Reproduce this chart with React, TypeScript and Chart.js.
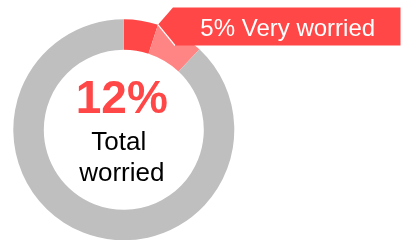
import React, { useEffect, useRef } from "react";
import { Chart, registerables } from "chart.js";

Chart.register(...registerables);

const categories = ["Very worried", "Somewhat worried", "Not worried"];
const values = [5, 7, 88];
const segmentColors = ["#FF4747", "#FF8585", "#BFBFBF"];
const totalLabel = "12%";
const totalCaption = ["Total", "worried"];
const calloutLabel = "5% Very worried";

const FONT = "'Liberation Sans', Arial, Helvetica, sans-serif";
const RED = "#FF4747";

const overlayPlugin = {
  id: "overlay",
  afterDraw(chart: any) {
    const ctx = chart.ctx as CanvasRenderingContext2D;
    const meta = chart.getDatasetMeta(0);
    const arc: any = meta.data[0];
    if (!arc) return;
    const { x, y, outerRadius, endAngle } = arc.getProps(["x", "y", "outerRadius", "endAngle"], true);

    // centre text
    ctx.save();
    ctx.textAlign = "center";
    ctx.textBaseline = "alphabetic";
    ctx.fillStyle = RED;
    ctx.font = `bold 46px ${FONT}`;
    ctx.fillText(totalLabel, x - 2, y - 17);
    ctx.fillStyle = "#000000";
    ctx.font = `26px ${FONT}`;
    ctx.fillText(totalCaption[0], x - 5, y + 20);
    ctx.fillText(totalCaption[1], x - 2, y + 51);
    ctx.restore();

    // callout banner
    const tipX = x + outerRadius * Math.cos(endAngle);
    const tipY = y + outerRadius * Math.sin(endAngle);
    const top = 7.5;
    const bottom = 45.5;
    const right = 400.5;
    const leftTop = tipX + 15;
    const leftBottom = tipX + 17;
    ctx.save();
    ctx.beginPath();
    ctx.moveTo(tipX, tipY);
    ctx.lineTo(leftTop, top);
    ctx.lineTo(right, top);
    ctx.lineTo(right, bottom);
    ctx.lineTo(leftBottom, bottom);
    ctx.closePath();
    ctx.fillStyle = RED;
    ctx.fill();
    ctx.strokeStyle = "#FFFFFF";
    ctx.lineWidth = 1.2;
    ctx.beginPath();
    ctx.moveTo(tipX, tipY);
    ctx.lineTo(leftBottom, bottom);
    ctx.stroke();
    ctx.fillStyle = "#FFFFFF";
    ctx.font = `24px ${FONT}`;
    ctx.textAlign = "center";
    ctx.textBaseline = "alphabetic";
    ctx.fillText(calloutLabel, (leftTop + right) / 2 + 1, 36);
    ctx.restore();
  },
};

export default function App() {
  const canvasRef = useRef<HTMLCanvasElement | null>(null);

  useEffect(() => {
    document.body.style.margin = "0";
    if (!canvasRef.current) return;
    const chart = new Chart(canvasRef.current, {
      type: "doughnut",
      data: {
        labels: categories,
        datasets: [
          {
            data: values,
            backgroundColor: segmentColors,
            borderWidth: 0,
          },
        ],
      },
      options: {
        animation: false,
        responsive: false,
        maintainAspectRatio: false,
        cutout: "72.4%",
        layout: {
          padding: { left: 13.3, top: 19.3, right: 166.7, bottom: 9.7 },
        },
        plugins: {
          legend: { display: false },
          tooltip: { enabled: false },
        },
      },
      plugins: [overlayPlugin],
    });
    return () => chart.destroy();
  }, []);

  return (
    <div style={{ position: "absolute", left: 0, top: 0, width: 401, height: 240, overflow: "hidden" }}>
      <canvas ref={canvasRef} width={401} height={250} style={{ display: "block", width: 401, height: 250 }} />
    </div>
  );
}
